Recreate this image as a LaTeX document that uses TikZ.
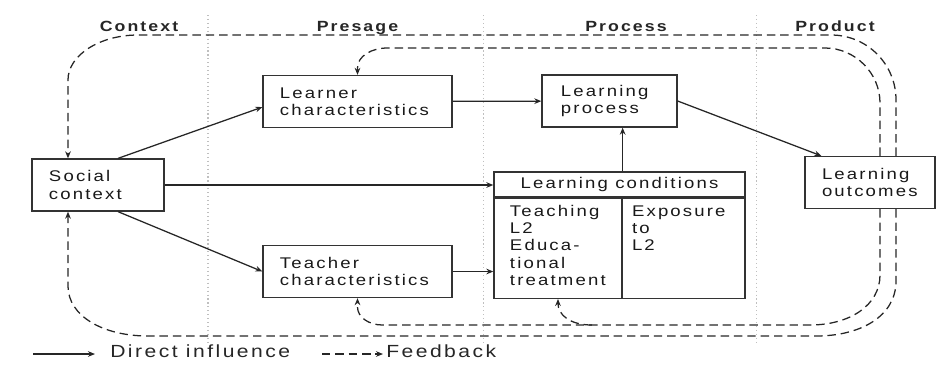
\documentclass[tikz,border=0pt]{standalone}
\usepackage{fontspec}
\setmainfont{Liberation Sans}[FakeStretch=1.2,LetterSpace=14]
\usetikzlibrary{arrows.meta,calc}

\begin{document}
\begin{tikzpicture}[x=0.025cm,y=-0.025cm]
% Estilos
\tikzset{caja/.style={draw,line width=.9pt,color=black!80,text=black!90,minimum height=1.3cm,inner xsep=.425cm,align=left,font=\fontsize{11}{12.3}\selectfont},
  celda/.style={draw,line width=.9pt,color=black!80,text=black!90,inner ysep=.1cm,inner xsep=.4cm,align=left,text height=.35cm,font=\fontsize{11}{12.3}\selectfont},
  directa/.style={line width=.9pt,color=black!85,-{Stealth[length=5pt,width=4pt]}},
  retro/.style={line width=.9pt,color=black!85,dash pattern=on 6pt off 3.5pt,-{Stealth[length=5pt,width=4pt]}},
  separador/.style={gray!50,line width=.8pt,dotted},
  fase/.style={font=\bfseries\fontsize{10.5}{12}\selectfont,text=black!85},
  leyenda/.style={font=\fontsize{12.5}{14}\selectfont,text=black!85,inner sep=0pt}}

\useasboundingbox (0,0) rectangle (938,364);

% Fases
\draw[separador] (208,15) -- (208,345) (483.5,15) -- (483.5,345) (756.5,15) -- (756.5,345);
\node[fase,anchor=base] (context) at (139,31) {Context};
\node[fase,anchor=base] (presage) at (357.5,31) {Presage};
\node[fase,anchor=base] (processh) at (626,31) {Process};
\node[fase,anchor=base] (product) at (835,31) {Product};

% Cajas
\node[caja,text width=2.45cm] (social) at (98,185) {Social\\context};
\node[caja,text width=3.875cm] (learner) at (357.5,101.5) {Learner\\characteristics};
\node[caja,text width=3.875cm] (teacher) at (357.5,271.5) {Teacher\\characteristics};
\node[caja,inner xsep=.475cm,text width=2.425cm] (process) at (609.5,101) {Learning\\process};
\node[caja,text width=2.4cm] (outcomes) at (870,182.5) {Learning\\outcomes};
\node[caja,minimum width=6.275cm,minimum height=.625cm,inner sep=0pt,align=center] (condhead) at (619.5,184.5) {Learning conditions};
\node[celda,text width=2.4cm,text depth=1.95cm,anchor=north west] (teaching) at (condhead.south west) {Teaching\\L2\\Educa-\\tional\\treatment};
\node[celda,inner xsep=.25cm,text width=2.575cm,text depth=1.95cm,anchor=north east] (exposure) at (condhead.south east) {Exposure\\to\\L2};

% Flechas
\draw[directa] ([xshift=.5cm]social.north) -- ([yshift=-.14cm]learner.west);
\draw[directa] ([xshift=.5cm]social.south) -- (teacher.west);
\draw[directa] (social.east) -- (social.east -| condhead.west);
\draw[directa] (learner) -- (process);
\draw[directa] (teacher.east) -- (teacher.east -| teaching.west);
\draw[directa] (teaching.north east |- condhead.north) -- (teaching.north east |- process.south);
\draw[directa] (process.east) -- ([xshift=.425cm]outcomes.north west);

% Retroalimentación
\coordinate (alto1) at (0,35);
\coordinate (alto2) at (0,48);
\coordinate (bajo1) at (0,336);
\coordinate (bajo2) at (0,325);
\coordinate (sal1) at ([xshift=.65cm]outcomes.north);
\coordinate (sal2) at ([xshift=.25cm]outcomes.north);
\coordinate (sal3) at ([xshift=.65cm]outcomes.south);
\coordinate (sal4) at ([xshift=.25cm]outcomes.south);
\coordinate (ent1) at ([xshift=-.75cm]social.north);
\coordinate (ent3) at ([xshift=-.75cm]social.south);
\coordinate (c1) at (sal1 |- alto1);
\coordinate (c2) at (ent1 |- alto1);
\coordinate (c3) at (sal2 |- alto2);
\coordinate (c4) at (learner.north |- alto2);
\coordinate (c5) at (sal3 |- bajo1);
\coordinate (c6) at (ent3 |- bajo1);
\coordinate (c7) at (sal4 |- bajo2);
\coordinate (c8) at (teacher.south |- bajo2);
\coordinate (rama) at ($(teaching.south |- bajo2)+(34,0)$);

\draw[retro] (sal1) -- ($(c1)+(0,65)$) .. controls +(0,-36) and +(36,0) .. ($(c1)+(-65,0)$) -- ($(c2)+(70,0)$) .. controls +(-38,0) and +(0,-25) .. ($(c2)+(0,45)$) -- (ent1);
\draw[retro] (sal2) -- ($(c3)+(0,55)$) .. controls +(0,-30) and +(30,0) .. ($(c3)+(-55,0)$) -- ($(c4)+(30,0)$) .. controls +(-16,0) and +(0,-12) .. ($(c4)+(0,20)$) -- (learner.north);
\draw[retro] (sal3) -- ($(c5)+(0,-55)$) .. controls +(0,35) and +(45,0) .. ($(c5)+(-80,0)$) -- ($(c6)+(80,0)$) .. controls +(-45,0) and +(0,30) .. ($(c6)+(0,-50)$) -- (ent3);
\draw[retro] (sal4) -- ($(c7)+(0,-50)$) .. controls +(0,30) and +(40,0) .. ($(c7)+(-70,0)$) -- ($(c8)+(25,0)$) .. controls +(-14,0) and +(0,10) .. ($(c8)+(0,-18)$) -- (teacher.south);
\draw[retro] (rama) .. controls +(-22,0) and +(0,16) .. (teaching.south);

% Leyenda
\coordinate (ley1) at (33,354);
\coordinate (ley2) at (95,354);
\coordinate (ley3) at (322,354);
\coordinate (ley4) at (383,354);
\node[leyenda,anchor=base west] (direct) at (110,357) {Direct influence};
\node[leyenda,anchor=base west] (feed) at (386,357) {Feedback};
\draw[directa] (ley1) -- (ley2);
\draw[retro] (ley3) -- (ley4);

\end{tikzpicture}
\end{document}
